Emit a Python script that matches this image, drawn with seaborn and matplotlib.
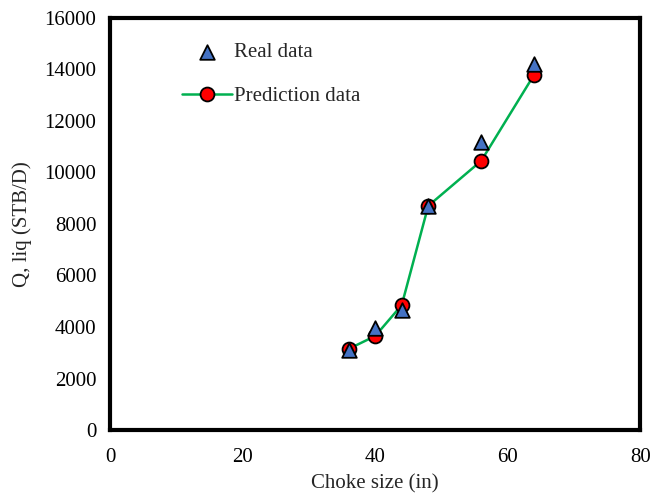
import matplotlib
matplotlib.use("Agg")
import matplotlib.pyplot as plt
import seaborn as sns
import pandas as pd

choke = [36, 40, 44, 48, 56, 64]
real_q = [3100, 3950, 4650, 8700, 11200, 14200]
pred_q = [3150, 3650, 4850, 8700, 10450, 13800]
x_ticks = [0, 20, 40, 60, 80]
y_ticks = [0, 2000, 4000, 6000, 8000, 10000, 12000, 14000, 16000]

sns.set_style("white")
plt.rcParams['font.family'] = ['Liberation Serif', 'DejaVu Serif']
plt.rcParams['font.size'] = 15

df = pd.DataFrame({"choke": choke, "real": real_q, "pred": pred_q})

fig = plt.figure(figsize=(6.52, 4.96), dpi=100)
ax = fig.add_axes([0.169, 0.133, 0.813, 0.831])

sns.lineplot(data=df, x="choke", y="pred", ax=ax, color="#00B050", linewidth=1.8,
             marker="o", markersize=10, markerfacecolor="#FF0000",
             markeredgecolor="black", markeredgewidth=1.3, label="Prediction data",
             zorder=2)
sns.scatterplot(data=df, x="choke", y="real", ax=ax, marker="^", s=110,
                color="#4472C4", edgecolor="black", linewidth=1.3,
                label="Real data", zorder=3)

ax.set_xlim(0, 80)
ax.set_ylim(0, 16000)
ax.set_xticks(x_ticks)
ax.set_yticks(y_ticks)
ax.set_xlabel("Choke size (in)", fontsize=15, labelpad=5)
ax.set_ylabel("Q, liq (STB/D)", fontsize=15, labelpad=9)
for s in ax.spines.values():
    s.set_linewidth(3)
    s.set_color("black")
ax.tick_params(direction="out", length=4, width=2.5, labelsize=15, colors="black")
ax.tick_params(axis="x", pad=9)
ax.tick_params(axis="y", pad=6)

handles, labels = ax.get_legend_handles_labels()
order = [labels.index("Real data"), labels.index("Prediction data")]
ax.legend([handles[i] for i in order], [labels[i] for i in order],
          loc="upper left", bbox_to_anchor=(0.10, 0.985), frameon=False,
          fontsize=15, handlelength=2.4, labelspacing=1.15, handletextpad=0.1)

fig.savefig("out.png", dpi=100)
